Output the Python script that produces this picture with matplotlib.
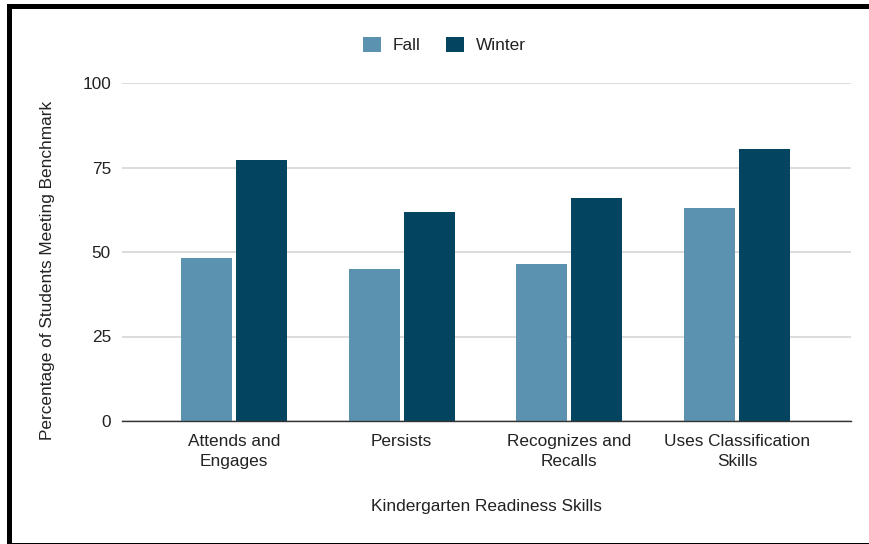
import matplotlib
matplotlib.use("Agg")
import matplotlib.pyplot as plt
from matplotlib.patches import Patch, Rectangle
import numpy as np

plt.rcParams['font.family'] = ['Liberation Sans', 'DejaVu Sans']

# Data
categories = ["Attends and\nEngages", "Persists", "Recognizes and\nRecalls", "Uses Classification\nSkills"]
fall = [48.2, 44.9, 46.5, 63.1]
winter = [77.2, 61.8, 66.1, 80.6]
series_names = ["Fall", "Winter"]
y_ticks = [0, 25, 50, 75, 100]

fall_color = "#5b92b0"
winter_color = "#034561"
text_color = "#222222"
fs = 12.4

W, H = 870, 544
fig = plt.figure(figsize=(W / 100, H / 100), dpi=100)
fig.patch.set_facecolor("white")

ax = fig.add_axes([122 / W, 1 - 421 / H, (851 - 122) / W, (421 - 83) / H])

x = np.arange(len(categories))
bw = 0.304
gap = 0.024
ax.bar(x - (bw + gap) / 2, fall, width=bw, color=fall_color, zorder=3)
ax.bar(x + (bw + gap) / 2, winter, width=bw, color=winter_color, zorder=3)

ax.set_xlim(-0.667, 3.679)
ax.set_ylim(0, 100)
ax.set_yticks(y_ticks)
ax.set_yticklabels([str(t) for t in y_ticks])
ax.set_xticks(x)
ax.set_xticklabels(categories, linespacing=1.42)
ax.tick_params(axis="both", length=0, labelsize=fs, colors=text_color)
ax.tick_params(axis="y", pad=8)
ax.tick_params(axis="x", pad=9.5)

ax.grid(axis="y", color="#d6d6d6", linewidth=1.2, zorder=0)
for s in ["top", "right", "left"]:
    ax.spines[s].set_visible(False)
ax.spines["bottom"].set_color("#333333")
ax.spines["bottom"].set_linewidth(1.0)
ax.spines["bottom"].set_zorder(4)

fig.text(486 / W, 1 - 506 / H, "Kindergarten Readiness Skills", ha="center", va="center",
         fontsize=fs, color=text_color)
fig.text(48 / W, 1 - 270 / H, "Percentage of Students Meeting Benchmark", ha="center",
         va="center", rotation=90, fontsize=fs, color=text_color)

handles = [Patch(facecolor=fall_color, edgecolor="none"),
           Patch(facecolor=winter_color, edgecolor="none")]
fig.legend(handles, series_names, loc="center", bbox_to_anchor=(444.5 / W, 1 - 45 / H),
           ncol=2, frameon=False, fontsize=fs, handlelength=1.0, handleheight=1.0,
           handletextpad=0.7, columnspacing=1.5, labelcolor=text_color)

# Black frame around the figure
fig.add_artist(Rectangle((7 / W, 1 - 9 / H), 1 - 7 / W, 5 / H, transform=fig.transFigure,
                         facecolor="black", edgecolor="none"))
fig.add_artist(Rectangle((7 / W, 1 - 543 / H), 5 / W, (543 - 4) / H, transform=fig.transFigure,
                         facecolor="black", edgecolor="none"))
fig.add_artist(Rectangle((7 / W, 1 - 544 / H), 1 - 7 / W, 1.5 / H, transform=fig.transFigure,
                         facecolor="black", edgecolor="none"))

fig.savefig("out.png", dpi=100)
